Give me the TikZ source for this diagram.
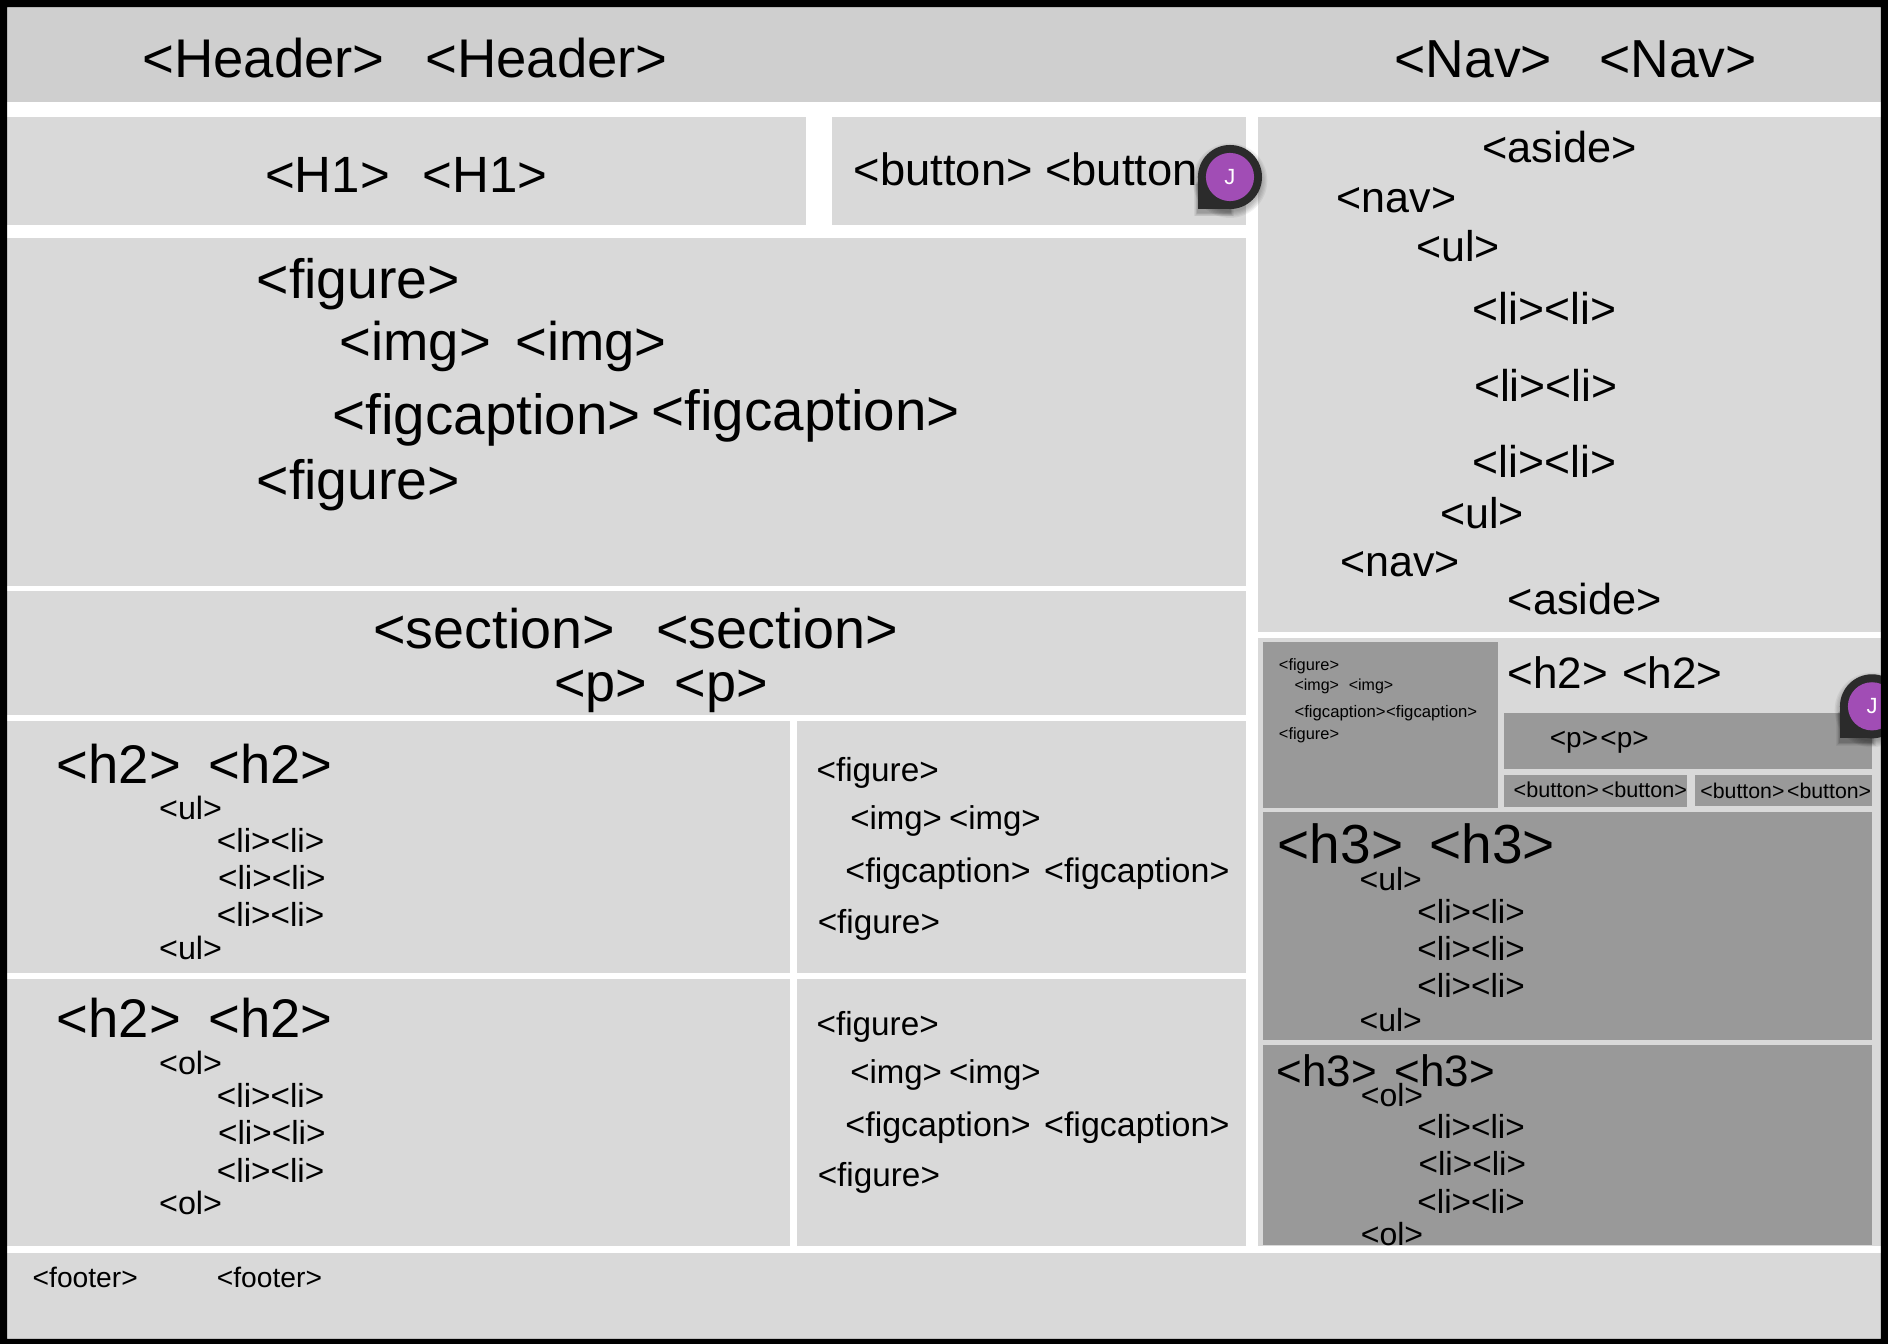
\documentclass[tikz,border=0pt]{standalone}
\usepackage{fontspec}
\setmainfont{Liberation Sans}

\definecolor{pinpurple}{RGB}{161,77,181}
\tikzset{
  panel/.style={fill=black!15},
  headpanel/.style={fill=black!19},
  darkpanel/.style={fill=black!40},
  lbl/.style={anchor=base west, inner sep=0pt, yshift=-#1*0.06pt, font=\fontsize{#1}{#1}\selectfont}
}

\begin{document}
\begin{tikzpicture}[x=1.2041pt,y=-1.2041pt]
\useasboundingbox (0,0) rectangle (1568,1116.2);
\fill[white] (0,0) rectangle (1568,1116.2);
% page boxes
\fill[headpanel] (6,6) rectangle (1562,85);
\fill[panel] (6,97) rectangle (669,187);
\fill[panel] (691,97) rectangle (1035,187);
\fill[panel] (1045,97) rectangle (1562,525);
\fill[panel] (6,198) rectangle (1035,487);
\fill[panel] (6,491) rectangle (1035,594);
\fill[panel] (6,599) rectangle (656,808);
\fill[panel] (662,599) rectangle (1035,808);
\fill[panel] (6,813) rectangle (656,1035);
\fill[panel] (662,813) rectangle (1035,1035);
\fill[panel] (1045,530) rectangle (1562,1035);
\fill[panel] (6,1041) rectangle (1562,1112);
% inner side boxes
\fill[darkpanel] (1049,533) rectangle (1244,671);
\fill[darkpanel] (1249,592) rectangle (1555,639);
\fill[darkpanel] (1249,644) rectangle (1401,670);
\fill[darkpanel] (1408,644) rectangle (1555,669);
\fill[darkpanel] (1049,674) rectangle (1555,864);
\fill[darkpanel] (1049,868) rectangle (1555,1034);
% top row
\node[lbl=54.5] (headerA) at (118,62) {<Header>};
\node[lbl=54.5] (headerB) at (353,62) {<Header>};
\node[lbl=53.5] (navA) at (1158,62) {<Nav>};
\node[lbl=53.5] (navB) at (1328,62) {<Nav>};
\node[lbl=51] (hoA) at (220,157) {<H1>};
\node[lbl=51] (hoB) at (351,157) {<H1>};
\node[lbl=45.3] (buttonA) at (709,152) {<button>};
\node[lbl=45.3] (buttonB) at (868,152) {<button};
% aside
\node[lbl=43.3] (asideA) at (1231,133) {<aside>};
\node[lbl=43] (snavA) at (1110,174) {<nav>};
\node[lbl=43] (sulA) at (1176,215) {<ul>};
\node[lbl=44.5] (sliA) at (1223,267) {<li><li>};
\node[lbl=44.5] (sliB) at (1224,331) {<li><li>};
\node[lbl=44.5] (sliC) at (1223,394) {<li><li>};
\node[lbl=43] (sulB) at (1196,437) {<ul>};
\node[lbl=43] (snavB) at (1113,477) {<nav>};
\node[lbl=43.3] (asideB) at (1252,508) {<aside>};
% big figure
\node[lbl=55.4] (figA) at (213,245) {<figure>};
\node[lbl=54.4] (imgA) at (282,297) {<img>};
\node[lbl=54.4] (imgB) at (428,297) {<img>};
\node[lbl=56.6] (capA) at (276,358) {<figcaption>};
\node[lbl=56.6] (capB) at (541,355) {<figcaption>};
\node[lbl=55.4] (figB) at (213,412) {<figure>};
% section
\node[lbl=55.7] (secA) at (310,536) {<section>};
\node[lbl=55.7] (secB) at (545,536) {<section>};
\node[lbl=54] (parA) at (460,580) {<p>};
\node[lbl=54] (parB) at (560,580) {<p>};
% first article
\node[lbl=54.4] (hzA) at (47,648) {<h2>};
\node[lbl=54.4] (hzB) at (173,648) {<h2>};
\node[lbl=32.3] (ulA) at (132,679) {<ul>};
\node[lbl=33.3] (liA) at (180,706) {<li><li>};
\node[lbl=33.3] (liB) at (181,737) {<li><li>};
\node[lbl=33.3] (liC) at (180,768) {<li><li>};
\node[lbl=32.3] (ulB) at (132,795) {<ul>};
\node[lbl=33.3] (figC) at (678,647) {<figure>};
\node[lbl=33] (imgC) at (706,687) {<img>};
\node[lbl=33] (imgD) at (788,687) {<img>};
\node[lbl=34] (capC) at (702,731) {<figcaption>};
\node[lbl=34] (capD) at (867,731) {<figcaption>};
\node[lbl=33.3] (figD) at (679,774) {<figure>};
% second article
\node[lbl=54.4] (hzC) at (47,859) {<h2>};
\node[lbl=54.4] (hzD) at (173,859) {<h2>};
\node[lbl=32.3] (olA) at (132,891) {<ol>};
\node[lbl=33.3] (liD) at (180,918) {<li><li>};
\node[lbl=33.3] (liE) at (181,949) {<li><li>};
\node[lbl=33.3] (liF) at (180,980) {<li><li>};
\node[lbl=32.3] (olB) at (132,1007) {<ol>};
\node[lbl=33.3] (figE) at (678,858) {<figure>};
\node[lbl=33] (imgE) at (706,898) {<img>};
\node[lbl=33] (imgF) at (788,898) {<img>};
\node[lbl=34] (capE) at (702,942) {<figcaption>};
\node[lbl=34] (capF) at (867,942) {<figcaption>};
\node[lbl=33.3] (figF) at (679,984) {<figure>};
% side card
\node[lbl=16.4] (sfigA) at (1062,556) {<figure>};
\node[lbl=16] (simgA) at (1075,573) {<img>};
\node[lbl=16] (simgB) at (1120,573) {<img>};
\node[lbl=16.7] (scapA) at (1075,595) {<figcaption>};
\node[lbl=16.7] (scapB) at (1151,595) {<figcaption>};
\node[lbl=16.4] (sfigB) at (1062,613) {<figure>};
\node[lbl=44] (shzA) at (1252,570) {<h2>};
\node[lbl=44] (shzB) at (1347,570) {<h2>};
\node[lbl=28] (sparA) at (1287,619) {<p>};
\node[lbl=28] (sparB) at (1329,619) {<p>};
\node[lbl=21.6] (sbtnA) at (1257,661) {<button>};
\node[lbl=21.6] (sbtnB) at (1330,661) {<button>};
\node[lbl=21.3] (sbtnC) at (1412,662) {<button>};
\node[lbl=21.3] (sbtnD) at (1484,662) {<button>};
\node[lbl=55] (htA) at (1061,714) {<h3>};
\node[lbl=55] (htB) at (1187,714) {<h3>};
\node[lbl=32] (sulC) at (1129,738) {<ul>};
\node[lbl=33.3] (sliD) at (1177,765) {<li><li>};
\node[lbl=33.3] (sliE) at (1177,796) {<li><li>};
\node[lbl=33.3] (sliF) at (1177,827) {<li><li>};
\node[lbl=32] (sulD) at (1129,855) {<ul>};
\node[lbl=44] (htC) at (1060,900) {<h3>};
\node[lbl=44] (htD) at (1158,900) {<h3>};
\node[lbl=32] (solA) at (1130,917) {<ol>};
\node[lbl=33.3] (sliG) at (1177,944) {<li><li>};
\node[lbl=33.3] (sliH) at (1178,975) {<li><li>};
\node[lbl=33.3] (sliI) at (1177,1006) {<li><li>};
\node[lbl=32] (solB) at (1130,1033) {<ol>};
% footer
\node[lbl=28.2] (footA) at (27,1068) {<footer>};
\node[lbl=28.2] (footB) at (180,1068) {<footer>};
% comment pins
\foreach \pinname/\cx/\cy in {pinA/1021.5/147, pinB/1554.7/586.6} {
  \foreach \grow in {1,2,3,4,5,6}
    \fill[black, opacity=0.05] (\cx,\cy+3) circle (25+\grow);
  \foreach \grow in {1,2,3,4,5,6}
    \fill[black, opacity=0.05] ([shift={(\grow*0.5,3+\grow*0.5)}]\cx,\cy) rectangle +(-26.6-\grow,26.6);
  \fill[black!83] (\cx,\cy) circle (26.6);
  \fill[black!83] (\cx,\cy) rectangle +(-26.6,26.6);
  \fill[pinpurple] (\cx,\cy) circle (20);
  \node[inner sep=0pt, text=white, font=\fontsize{22}{22}\selectfont] (\pinname) at (\cx,\cy) {J};
}
% outer frame
\fill[black, even odd rule] (0,0) rectangle (1568,1116.2) (6,6) rectangle (1562,1112);
\end{tikzpicture}
\end{document}
